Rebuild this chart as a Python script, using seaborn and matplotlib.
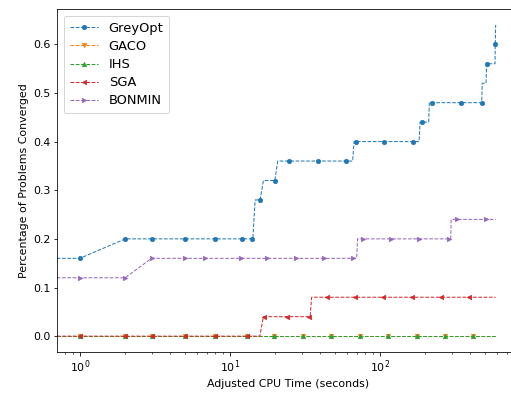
import numpy as np
import pandas as pd
import matplotlib
matplotlib.use("Agg")
import matplotlib.pyplot as plt
import seaborn as sns

# ---- data ----
greyopt_t = [0.7, 1, 2, 3, 5, 8, 12, 14, 14.2, 14.7, 15.85, 16.7, 19.9, 20.8, 24.9, 38.6,
             59.3, 65.7, 67.1, 69.2, 106, 165, 182, 185, 190.5, 211, 213, 222, 345, 476,
             480, 509, 513, 584, 586, 590]
greyopt_y = [0.16, 0.16, 0.20, 0.20, 0.20, 0.20, 0.20, 0.20, 0.20, 0.28, 0.28, 0.32, 0.32, 0.36,
             0.36, 0.36, 0.36, 0.36, 0.40, 0.40, 0.40, 0.40, 0.40, 0.44, 0.44, 0.44, 0.48, 0.48,
             0.48, 0.48, 0.52, 0.52, 0.56, 0.56, 0.60, 0.64]
greyopt_mk = [0, 1, 1, 1, 1, 1, 1, 1, 0, 0, 1, 0, 1, 0, 1, 1, 1, 0, 0, 1, 1, 1, 0, 0, 1, 0, 0, 1,
              1, 1, 0, 0, 1, 0, 1, 0]

gaco_t = [0.7, 1, 2, 3, 5, 8, 12.9, 19.7, 30.6, 47.4, 73.6, 113, 176, 271, 419, 590]
gaco_y = [0.0] * 16
gaco_mk = [0] + [1] * 14 + [0]

ihs_t = [0.7, 1, 2, 3, 5, 8, 12.9, 19.7, 30.6, 47.4, 73.6, 113, 176, 271, 419, 590]
ihs_y = [0.0] * 16
ihs_mk = [0] + [1] * 14 + [0]

sga_t = [0.7, 1, 2, 3, 5, 8, 12.9, 15.8, 16.7, 16.9, 24.1, 33.8, 34.2, 35, 44.1, 68.5, 105,
         163, 254, 394, 590]
sga_y = [0, 0, 0, 0, 0, 0, 0, 0, 0.04, 0.04, 0.04, 0.04, 0.04, 0.08, 0.08, 0.08, 0.08, 0.08,
         0.08, 0.08, 0.08]
sga_mk = [0, 1, 1, 1, 1, 1, 1, 0, 0, 1, 1, 1, 0, 0, 1, 1, 1, 1, 1, 1, 0]

bonmin_t = [0.7, 1, 2, 3, 5, 6.8, 11.8, 17.7, 27.5, 42.2, 65.7, 69.9, 70.8, 76.7, 118, 183,
            290, 296, 298, 327, 509, 590]
bonmin_y = [0.12, 0.12, 0.12, 0.16, 0.16, 0.16, 0.16, 0.16, 0.16, 0.16, 0.16, 0.16, 0.20, 0.20,
            0.20, 0.20, 0.20, 0.20, 0.24, 0.24, 0.24, 0.24]
bonmin_mk = [0, 1, 1, 1, 1, 1, 1, 1, 1, 1, 1, 0, 0, 1, 1, 1, 1, 0, 0, 1, 1, 0]

series = [
    ("GreyOpt", greyopt_t, greyopt_y, greyopt_mk, "o", "#1f77b4"),
    ("GACO", gaco_t, gaco_y, gaco_mk, "v", "#ff7f0e"),
    ("IHS", ihs_t, ihs_y, ihs_mk, "^", "#2ca02c"),
    ("SGA", sga_t, sga_y, sga_mk, "<", "#d62728"),
    ("BONMIN", bonmin_t, bonmin_y, bonmin_mk, ">", "#9467bd"),
]

plt.rcParams["font.family"] = ["DejaVu Sans"]
plt.rcParams["font.size"] = 11

fig = plt.figure(figsize=(511 / 72, 394 / 72), dpi=72)
ax = fig.add_axes([57.3 / 511, (394 - 351.7) / 394, (518 - 57.3) / 511, (351.7 - 9.3) / 394])

for name, t, y, mk, marker, color in series:
    df = pd.DataFrame({"t": t, "y": y})
    idx = [i for i, m in enumerate(mk) if m]
    sns.lineplot(data=df, x="t", y="y", ax=ax, sort=False, estimator=None,
                 color=color, linestyle="--", linewidth=1.0, marker=marker,
                 markersize=4.5, markeredgewidth=0.6, markeredgecolor=color,
                 markerfacecolor=color, markevery=idx, label=name)

ax.set_xscale("log")
ax.set_xlim(0.706, 831)
ax.set_ylim(-0.032, 0.672)
ax.set_yticks([0.0, 0.1, 0.2, 0.3, 0.4, 0.5, 0.6])
ax.yaxis.set_major_formatter(matplotlib.ticker.FormatStrFormatter("%.1f"))
ax.set_xlabel("Adjusted CPU Time (seconds)")
ax.set_ylabel("Percentage of Problems Converged")
ax.legend(loc="upper left", fontsize=13, handlelength=2.2, borderaxespad=0.5,
          labelspacing=0.4, borderpad=0.45)

fig.savefig("out.png", dpi=72)
